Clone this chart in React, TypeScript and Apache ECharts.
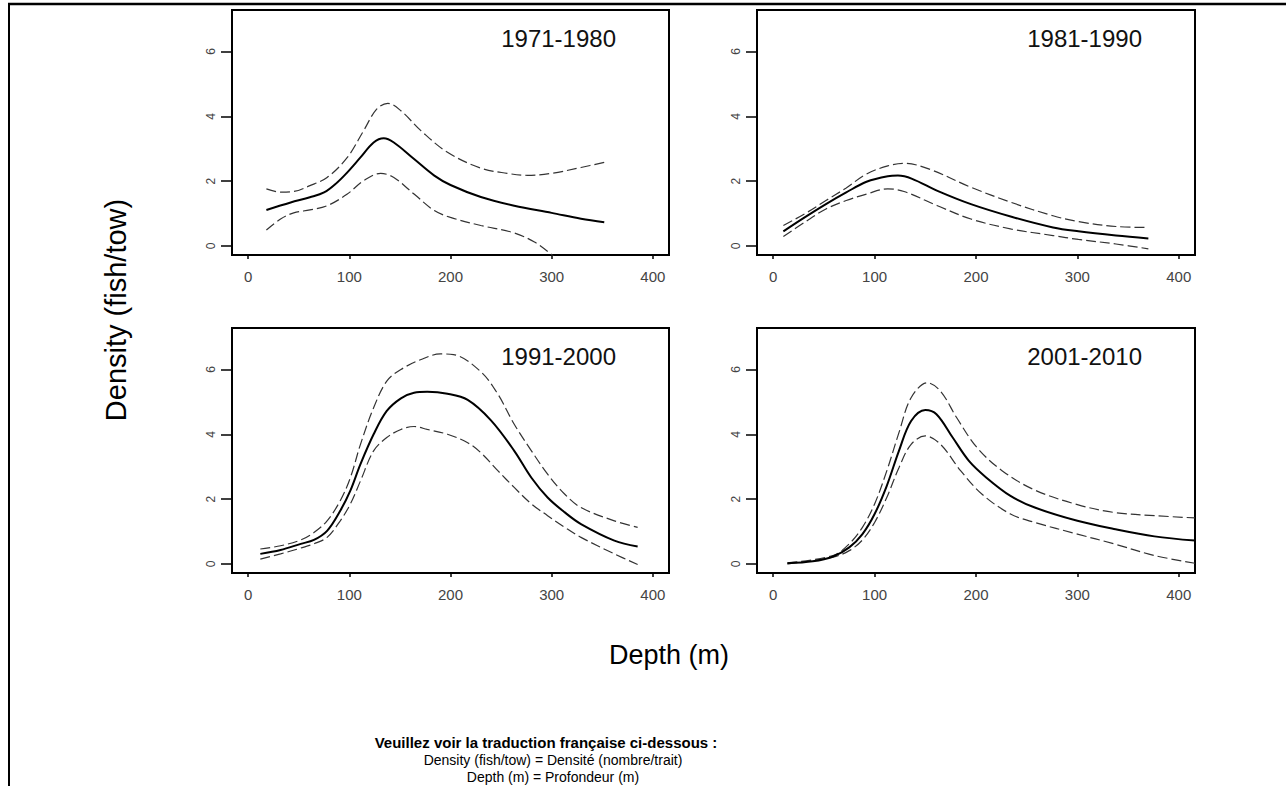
import React, { useEffect, useRef } from "react";
import * as echarts from "echarts";

// ---- data: depth (m) vs density (fish/tow) ----
const panelTitles = ["1971-1980", "1981-1990", "1991-2000", "2001-2010"];
const xTickValues = [0, 100, 200, 300, 400];
const yTickValues = [0, 2, 4, 6];

const fit7180 = [[18,1.11],[42,1.34],[61,1.50],[75,1.65],[88,1.96],[98,2.27],[111,2.73],[124,3.19],[134,3.32],[144,3.19],[164,2.68],[184,2.17],[200,1.88],[230,1.51],[263,1.24],[300,1.02],[329,0.84],[352,0.73]];
const upper7180 = [[18,1.76],[32,1.66],[45,1.68],[61,1.86],[78,2.11],[98,2.73],[114,3.55],[127,4.22],[138,4.40],[151,4.17],[171,3.55],[197,2.89],[230,2.40],[256,2.24],[276,2.18],[300,2.24],[329,2.42],[352,2.58]];
const lower7180 = [[18,0.49],[32,0.83],[45,1.02],[61,1.11],[78,1.24],[98,1.60],[114,2.01],[131,2.24],[144,2.11],[164,1.60],[184,1.09],[200,0.88],[230,0.63],[263,0.40],[283,0.12],[300,-0.27],[320,-0.80],[352,-1.50]];

const fit8190 = [[10,0.45],[31,0.88],[52,1.29],[72,1.65],[92,1.98],[113,2.15],[123,2.17],[137,2.07],[162,1.70],[195,1.29],[235,0.90],[276,0.57],[301,0.45],[338,0.32],[370,0.23]];
const upper8190 = [[10,0.63],[31,0.99],[52,1.40],[72,1.79],[92,2.22],[113,2.47],[129,2.55],[154,2.37],[195,1.81],[235,1.34],[276,0.93],[301,0.75],[338,0.60],[370,0.57]];
const lower8190 = [[10,0.29],[31,0.73],[52,1.14],[72,1.40],[92,1.60],[113,1.76],[129,1.68],[162,1.24],[195,0.83],[235,0.52],[276,0.32],[301,0.20],[338,0.06],[370,-0.09]];

const fit9100 = [[12,0.31],[32,0.43],[52,0.62],[65,0.74],[78,1.02],[91,1.64],[101,2.26],[111,3.08],[124,4.00],[137,4.72],[151,5.11],[164,5.28],[177,5.31],[197,5.25],[217,5.06],[240,4.43],[263,3.49],[280,2.66],[296,2.05],[313,1.59],[329,1.23],[362,0.72],[385,0.54]];
const upper9100 = [[12,0.46],[32,0.56],[52,0.74],[65,0.97],[78,1.33],[91,1.95],[101,2.66],[111,3.69],[124,4.82],[137,5.64],[151,6.00],[171,6.31],[190,6.48],[203,6.46],[230,5.93],[247,5.23],[263,4.31],[280,3.49],[296,2.77],[313,2.15],[329,1.74],[362,1.33],[385,1.13]];
const lower9100 = [[12,0.15],[32,0.31],[52,0.49],[65,0.62],[78,0.82],[91,1.33],[101,1.85],[111,2.56],[124,3.49],[137,3.90],[151,4.15],[164,4.24],[177,4.15],[197,4.00],[217,3.74],[230,3.43],[247,2.87],[263,2.36],[280,1.85],[296,1.49],[313,1.13],[329,0.82],[362,0.31],[385,-0.02]];

const fit0110 = [[14,0.02],[39,0.08],[59,0.23],[75,0.51],[88,0.92],[100,1.54],[112,2.41],[124,3.49],[136,4.41],[150,4.75],[161,4.62],[177,3.90],[193,3.18],[210,2.67],[234,2.10],[258,1.74],[300,1.33],[336,1.08],[376,0.85],[416,0.72]];
const upper0110 = [[14,0.03],[59,0.26],[75,0.62],[88,1.13],[100,1.85],[112,2.87],[124,4.05],[136,5.13],[152,5.59],[165,5.33],[181,4.51],[201,3.59],[226,2.87],[258,2.28],[300,1.83],[336,1.59],[376,1.49],[416,1.42]];
const lower0110 = [[14,0.00],[59,0.21],[75,0.41],[88,0.74],[100,1.28],[112,2.05],[124,2.97],[136,3.69],[150,3.95],[165,3.69],[185,2.87],[206,2.15],[234,1.54],[258,1.28],[300,0.92],[336,0.62],[376,0.26],[416,0.02]];

const panelData = [
  { fit: fit7180, upper: upper7180, lower: lower7180 },
  { fit: fit8190, upper: upper8190, lower: lower8190 },
  { fit: fit9100, upper: upper9100, lower: lower9100 },
  { fit: fit0110, upper: upper0110, lower: lower0110 },
];

const FONT = "'Liberation Sans', Arial, sans-serif";
const NARROW = "'Liberation Sans Narrow', 'Arial Narrow', 'Liberation Sans', sans-serif";

const grids = [
  { left: 232, top: 10, width: 437, height: 245 },
  { left: 757, top: 10, width: 438, height: 245 },
  { left: 232, top: 328, width: 437, height: 245 },
  { left: 757, top: 328, width: 438, height: 245 },
];

export default function App() {
  const ref = useRef<HTMLDivElement>(null);
  useEffect(() => {
    if (!ref.current) return;
    const chart = echarts.init(ref.current, null, { renderer: "svg" });
    const series: any[] = [];
    panelData.forEach((p, i) => {
      const common = { type: "line", xAxisIndex: i, yAxisIndex: i, showSymbol: false, symbol: "none", smooth: 0.35, clip: true, silent: true };
      series.push({ ...common, name: panelTitles[i] + " upper", data: p.upper, lineStyle: { color: "#333", width: 1.2, type: [10, 4] } });
      series.push({ ...common, name: panelTitles[i] + " lower", data: p.lower, lineStyle: { color: "#333", width: 1.2, type: [10, 4] } });
      series.push({ ...common, name: panelTitles[i], data: p.fit, lineStyle: { color: "#000", width: 2 } });
    });
    const graphic: any[] = [
      { type: "line", shape: { x1: 8, y1: 4, x2: 1286, y2: 4 }, style: { stroke: "#000", lineWidth: 2.5 } },
      { type: "line", shape: { x1: 9, y1: 3, x2: 9, y2: 786 }, style: { stroke: "#000", lineWidth: 2 } },
    ];
    grids.forEach((g, i) => {
      graphic.push({
        type: "text", x: g.left + g.width - 53, y: g.top + 28,
        style: { text: panelTitles[i], fill: "#111", font: `24px ${FONT}`, textAlign: "right", textVerticalAlign: "middle" },
      });
    });
    graphic.push({ type: "text", x: 116, y: 310, rotation: Math.PI / 2,
      style: { text: "Density (fish/tow)", fill: "#000", font: `29px ${FONT}`, textAlign: "center", textVerticalAlign: "middle" } });
    graphic.push({ type: "text", x: 669, y: 655,
      style: { text: "Depth (m)", fill: "#000", font: `27px ${FONT}`, textAlign: "center", textVerticalAlign: "middle" } });
    graphic.push({ type: "text", x: 546, y: 742,
      style: { text: "Veuillez voir la traduction française ci-dessous :", fill: "#000", font: `bold 15px ${FONT}`, textAlign: "center", textVerticalAlign: "middle" } });
    graphic.push({ type: "text", x: 553, y: 760,
      style: { text: "Density (fish/tow) = Densité (nombre/trait)", fill: "#000", font: `14px ${FONT}`, textAlign: "center", textVerticalAlign: "middle" } });
    graphic.push({ type: "text", x: 553, y: 777,
      style: { text: "Depth (m) = Profondeur (m)", fill: "#000", font: `14px ${FONT}`, textAlign: "center", textVerticalAlign: "middle" } });

    chart.setOption({
      animation: false,
      backgroundColor: "#fff",
      grid: grids.map((g) => ({ ...g, show: true, borderColor: "#000", borderWidth: 2, backgroundColor: "transparent", containLabel: false })),
      xAxis: grids.map((_, i) => ({
        type: "value", gridIndex: i, min: -16, max: 416,
        axisLine: { show: false, onZero: false },
        splitLine: { show: false },
        axisTick: { show: true, customValues: xTickValues, length: 4, lineStyle: { color: "#000", width: 1.5 } },
        axisLabel: { customValues: xTickValues, margin: 14, fontSize: 15, fontFamily: NARROW, color: "#444" },
      })),
      yAxis: grids.map((_, i) => ({
        type: "value", gridIndex: i, min: -0.28, max: 7.28,
        axisLine: { show: false, onZero: false },
        splitLine: { show: false },
        axisTick: { show: true, customValues: yTickValues, length: 11, lineStyle: { color: "#000", width: 1.5 } },
        axisLabel: { customValues: yTickValues, rotate: 90, margin: 15, fontSize: 12, fontFamily: FONT, color: "#444" },
      })),
      series,
      graphic,
    });
    return () => chart.dispose();
  }, []);
  return <div ref={ref} style={{ position: "fixed", left: 0, top: 0, width: 1286, height: 786 }} />;
}
